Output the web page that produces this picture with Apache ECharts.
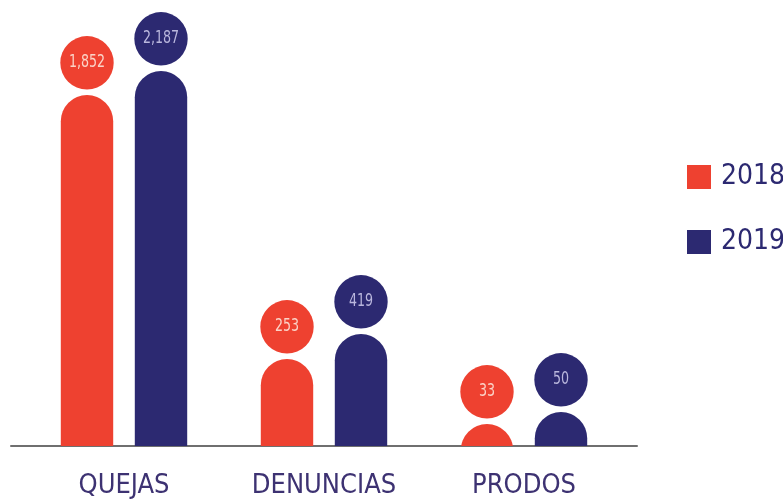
<!DOCTYPE html>
<html>
<head>
<meta charset="utf-8">
<script src="https://cdn.jsdelivr.net/npm/echarts@6/dist/echarts.min.js"></script>
<style>
html,body{margin:0;padding:0;background:#fff;}
#chart{width:783px;height:502px;}
</style>
</head>
<body>
<div id="chart"></div>
<script>
const categories = ['QUEJAS', 'DENUNCIAS', 'PRODOS'];
const years = ['2018', '2019'];
const values2018 = [1852, 253, 33];
const values2019 = [2187, 419, 50];
// Drawn bar heights (the infographic is not to scale), in axis units
const shown2018 = [351, 87, 22];
const shown2019 = [375, 112, 34];

const RED = '#ee4130';
const NAVY = '#2c2971';
const FONT = "'Liberation Sans Narrow', 'DejaVu Sans Condensed', 'DejaVu Sans', sans-serif";

function fmt(v) { return v.toLocaleString('en-US'); }

function makeRender(sign, color, textColor) {
  return function (params, api) {
    const i = api.value(0), h = api.value(1), v = api.value(2);
    const top = api.coord([i, h]);
    const base = api.coord([i, 0]);
    const band = api.size([1, 0])[0];
    const cx = top[0] + sign * band * 0.185;
    const w = band * 0.262;
    const r = w / 2;
    const gap = 6;
    const cy = top[1] - gap - r;
    return {
      type: 'group',
      children: [
        { type: 'rect', shape: { x: cx - r, y: top[1], width: w, height: base[1] - top[1] + r, r: [r, r, 0, 0] }, style: { fill: color } },
        { type: 'circle', shape: { cx: cx, cy: cy, r: r + 0.5 }, style: { fill: color } },
        { type: 'text', x: cx, y: cy, scaleX: 0.78,
          style: { text: fmt(v), x: 0, y: 0, align: 'center', verticalAlign: 'middle', fill: textColor, fontSize: 18, fontFamily: FONT } }
      ]
    };
  };
}

const chart = echarts.init(document.getElementById('chart'));
chart.setOption({
  animation: false,
  backgroundColor: '#fff',
  grid: [
    { left: 24, right: 159, top: 0, bottom: 56 },
    { left: 11, right: 146, top: 0, bottom: 56 }
  ],
  legend: {
    data: years,
    orient: 'vertical',
    left: 682,
    top: 158,
    itemWidth: 24,
    itemHeight: 24,
    itemGap: 37,
    icon: 'rect',
    selectedMode: false,
    textStyle: { fontSize: 28, color: NAVY, fontFamily: FONT, padding: [0, 0, 0, 5] }
  },
  xAxis: [
    {
      gridIndex: 0, type: 'category', data: categories,
      axisLine: { show: false }, axisTick: { show: false }, splitLine: { show: false },
      axisLabel: { interval: 0, fontSize: 27, color: '#3d3272', fontFamily: FONT, margin: 26 }
    },
    {
      gridIndex: 1, type: 'value', min: 0, max: 1,
      axisLine: { show: true, lineStyle: { color: '#6f6f6f', width: 2 } },
      axisTick: { show: false }, axisLabel: { show: false }, splitLine: { show: false }
    }
  ],
  yAxis: [
    { gridIndex: 0, type: 'value', min: 0, max: 446, show: false },
    { gridIndex: 1, type: 'value', min: 0, max: 1, show: false }
  ],
  series: [
    {
      name: '2018', type: 'custom', xAxisIndex: 0, yAxisIndex: 0, clip: true,
      itemStyle: { color: RED },
      encode: { x: 0, y: 1 },
      renderItem: makeRender(-1, RED, '#fbd3c7'),
      data: categories.map((c, i) => [i, shown2018[i], values2018[i]])
    },
    {
      name: '2019', type: 'custom', xAxisIndex: 0, yAxisIndex: 0, clip: true,
      itemStyle: { color: NAVY },
      encode: { x: 0, y: 1 },
      renderItem: makeRender(1, NAVY, '#bab7dd'),
      data: categories.map((c, i) => [i, shown2019[i], values2019[i]])
    }
  ]
});
</script>
</body>
</html>
